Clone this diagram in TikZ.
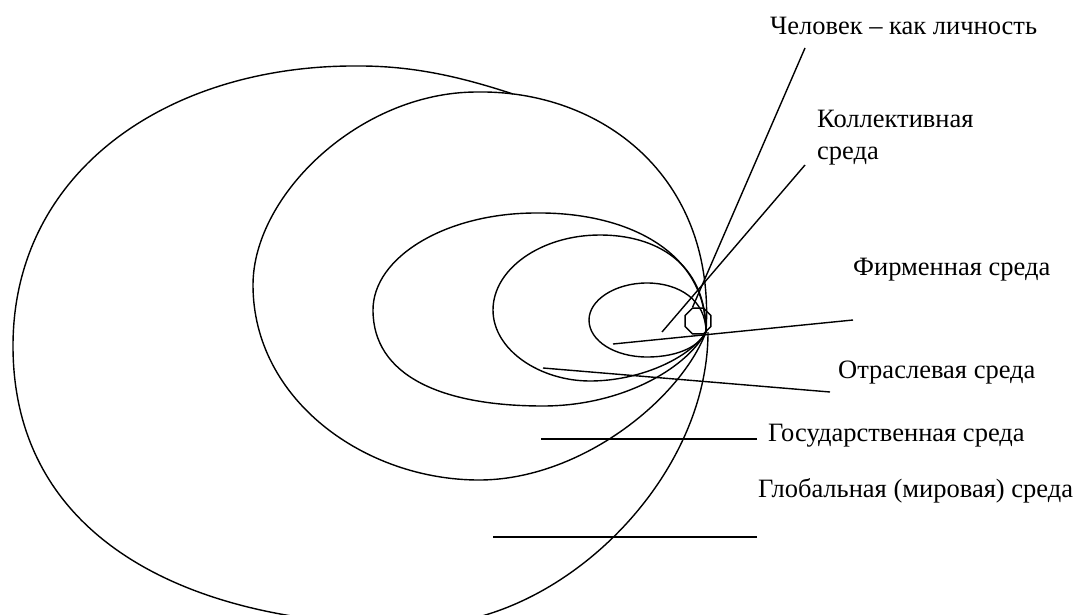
\documentclass[tikz,border=0pt]{standalone}
\usepackage{fontspec}
\setmainfont{Liberation Serif}
\usetikzlibrary{shapes.geometric}
\begin{document}
\begin{tikzpicture}[x=1pt,y=-1pt,
  curve/.style={line width=1.4pt, line join=round},
  leader/.style={line width=1.4pt},
  lbl/.style={anchor=base west, inner sep=0pt, font=\fontsize{26.5}{31}\selectfont},
  octa/.style={draw, line width=1.4pt, regular polygon, regular polygon sides=8, minimum size=28pt, inner sep=0pt}]
\useasboundingbox (0,0) rectangle (1083,615);
\clip (0,0) rectangle (1083,615);
% global environment (outer)
\draw[curve] (513,94) .. controls (470,80) and (420,66) .. (360,66)
  .. controls (170,64) and (13,170) .. (13,346)
  .. controls (13,545) and (200,628) .. (420,625)
  .. controls (560,625) and (708,480) .. (708,332);
% state environment
\draw[curve] (706,332) .. controls (716,175) and (600,90) .. (477,92)
  .. controls (360,92) and (253,195) .. (253,285)
  .. controls (253,400) and (365,480) .. (479,480)
  .. controls (580,480) and (680,400) .. (706,332);
% branch environment
\draw[curve] (706,332) .. controls (706,250) and (625,212) .. (536,213)
  .. controls (446,213) and (373,257) .. (373,310)
  .. controls (373,375) and (440,406) .. (543,406)
  .. controls (620,406) and (685,370) .. (706,332);
% firm environment
\draw[curve] (706,332) .. controls (706,262) and (655,235) .. (600,235)
  .. controls (541,235) and (493,269) .. (493,310)
  .. controls (493,350) and (540,381) .. (590,381)
  .. controls (640,381) and (690,358) .. (706,332);
% collective environment
\draw[curve] (706,332) .. controls (706,300) and (679,283) .. (647,283)
  .. controls (615,283) and (589,300) .. (589,320)
  .. controls (589,341) and (615,357) .. (647,357)
  .. controls (680,357) and (700,345) .. (706,332);
\node[octa] (oct) at (698,321) {};
% labels
\node[lbl] (chel) at (770,35) {Человек – как личность};
\node[lbl] (koll1) at (817,128) {Коллективная};
\node[lbl] (koll2) at (817,159) {среда};
\node[lbl] (firm) at (853,275) {Фирменная среда};
\node[lbl] (otr) at (838,378) {Отраслевая среда};
\node[lbl] (gos) at (768,441) {Государственная среда};
\node[lbl] (glob) at (758,497) {Глобальная (мировая) среда};
% leader ends
\coordinate (chelA) at (805,48);
\coordinate (kollA) at (805,165);
\coordinate (kollB) at (662,332);
\coordinate (firmA) at (853,320);
\coordinate (firmB) at (613,344);
\coordinate (otrA) at (830,392);
\coordinate (otrB) at (543,368);
\coordinate (gosA) at (757,439);
\coordinate (gosB) at (541,439);
\coordinate (globA) at (757,537);
\coordinate (globB) at (493,537);
\draw[leader] (chelA) -- (oct.112.5);
\draw[leader] (kollA) -- (kollB);
\draw[leader] (firmA) -- (firmB);
\draw[leader] (otrA) -- (otrB);
\draw[leader] (gosA) -- (gosB);
\draw[leader] (globA) -- (globB);
\end{tikzpicture}
\end{document}
